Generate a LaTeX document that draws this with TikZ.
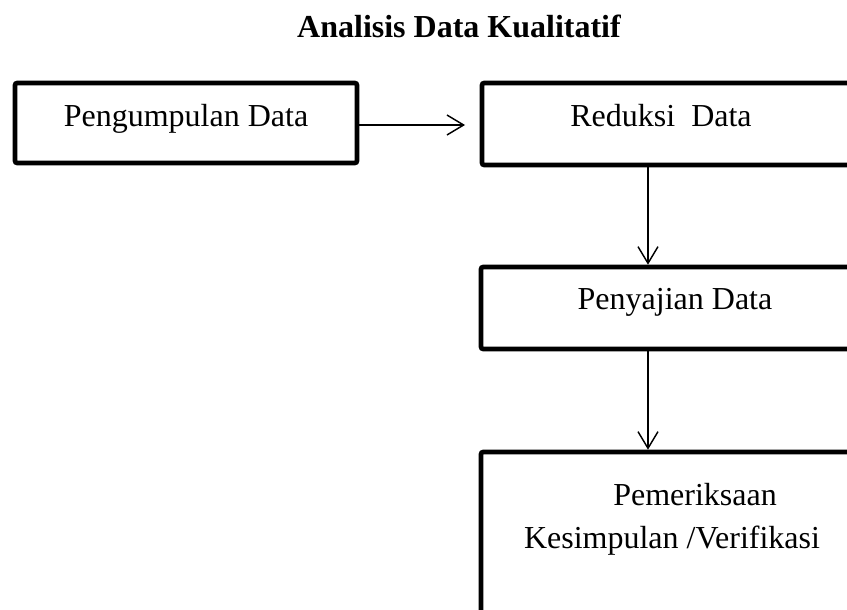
\documentclass[tikz,border=0pt]{standalone}
\usepackage{fontspec}
\setmainfont{Liberation Serif}
\usetikzlibrary{arrows.meta}
\begin{document}
\begin{tikzpicture}[x=0.75pt,y=-0.75pt,
  boxnode/.style={draw=black,line width=3.4pt,rounded corners=1.5pt,inner sep=0pt,minimum width=#1},
  lbl/.style={anchor=base,inner sep=0pt,font=\fontsize{24}{28}\selectfont},
  ttl/.style={anchor=base,inner sep=0pt,font=\fontsize{24}{28}\selectfont\bfseries},
  conn/.style={line width=1.1pt,-{Straight Barb[length=12.5pt,width=15pt,line width=1.1pt]}}]
\useasboundingbox (0,0) rectangle (847,610);
\clip (0,0) rectangle (847,610);
\node[ttl] (title) at (459,38) {Analisis Data Kualitatif};
\node[boxnode=256.5pt,minimum height=60pt] (b1) at (186,123) {};
\node[boxnode=313.5pt,minimum height=61.5pt] (b2) at (691,124) {};
\node[boxnode=314.25pt,minimum height=61.5pt] (b3) at (690.5,308) {};
\node[boxnode=314.25pt,minimum height=186pt] (b4) at (690.5,576) {};
\node[lbl] (t1) at (186,127) {Pengumpulan Data};
\node[lbl] (t2) at (661,127) {Reduksi\ \ Data};
\node[lbl] (t3) at (675,309) {Penyajian Data};
\node[lbl] (t4a) at (695,505) {Pemeriksaan};
\node[lbl] (t4b) at (672,548) {Kesimpulan /Verifikasi};
\coordinate (ax) at (648,0);
\coordinate (ay) at (0,125);
\coordinate (e1) at ([xshift=-11pt]b2.west |- ay);
\draw[conn] (b1.east |- ay) -- (e1);
\draw[conn] (b2.south -| ax) -- (b3.north -| ax);
\draw[conn] (b3.south -| ax) -- (b4.north -| ax);
\end{tikzpicture}
\end{document}
